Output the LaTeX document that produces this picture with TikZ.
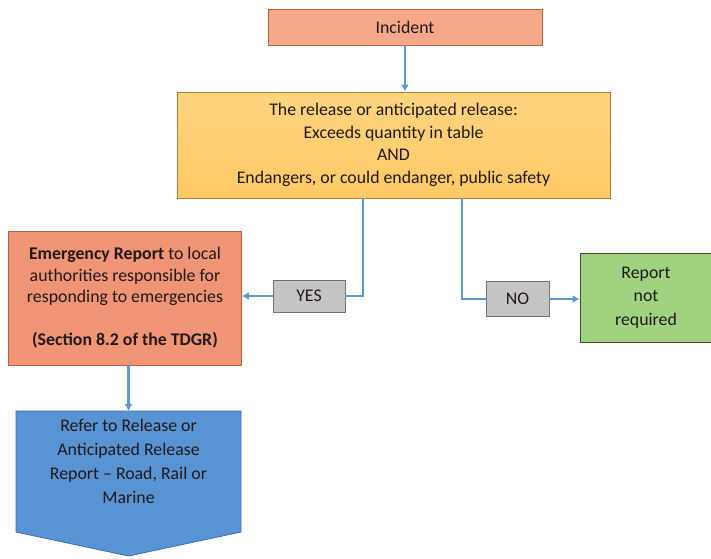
\documentclass[tikz,border=0pt]{standalone}
\usepackage{fontspec}
\setmainfont{Carlito}
\usepackage{tikz}
\usetikzlibrary{positioning, arrows.meta, calc}

\definecolor{salmon}{RGB}{245,168,138}
\definecolor{salmondark}{RGB}{190,95,60}
\definecolor{emerg}{RGB}{240,148,118}
\definecolor{gold}{RGB}{255,205,105}
\definecolor{golddark}{RGB}{170,130,50}
\definecolor{leaf}{RGB}{160,210,128}
\definecolor{leafdark}{RGB}{55,85,40}
\definecolor{stone}{RGB}{196,196,196}
\definecolor{stonedark}{RGB}{115,115,115}
\definecolor{sky}{RGB}{88,148,212}
\definecolor{skydark}{RGB}{60,110,170}
\definecolor{wire}{RGB}{92,152,212}
\definecolor{ink}{RGB}{35,25,25}

\tikzset{
    box/.style={draw, line width=0.8pt, align=center, inner sep=0pt, text=ink,
        font=\fontsize{17.8}{22.5}\selectfont},
    tag/.style={box, fill=stone, draw=stonedark},
    link/.style={draw=wire, line width=2.4pt},
    arrow/.style={link, -{Latex[length=7pt,width=8pt]}}
}

\begin{document}
\begin{tikzpicture}[x=1pt, y=-1pt]
    \useasboundingbox (0,0) rectangle (711,558);

    % boxes
    \node[box, fill=salmon, draw=salmondark, minimum width=274pt, minimum height=36pt]
        (incident) at (405,27) {Incident};
    \node[box, draw=golddark, top color=gold!85!white, bottom color=gold!95!orange,
        minimum width=433pt, minimum height=106pt]
        (release) at (393.5,145)
        {The release or anticipated release:\\Exceeds quantity in table\\AND\\Endangers, or could endanger, public safety};
    \node[box, fill=emerg, draw=salmondark, minimum width=233pt, minimum height=134pt,
        font=\fontsize{17.8}{21.5}\selectfont]
        (emergency) at (125,298)
        {\textbf{Emergency Report} to local\\authorities responsible for\\responding to emergencies\\[21.5pt]\textbf{(Section 8.2 of the TDGR)}};
    \node[tag, minimum width=72pt, minimum height=32pt] (yes) at (309,296) {YES};
    \node[tag, minimum width=63pt, minimum height=35pt] (no) at (517.5,299) {NO};
    \node[box, fill=leaf, draw=leafdark, minimum width=132pt, minimum height=89pt,
        font=\fontsize{17.8}{23.5}\selectfont]
        (none) at (646,297.5) {Report\\not\\required};

    % off-page shape
    \coordinate (refer) at (128.5,411);
    \fill[sky, draw=skydark, line width=0.8pt]
        (16,411) -- (241,411) -- (241,532) -- (128.5,556) -- (16,532) -- cycle;
    \node[box, draw=none, font=\fontsize{17.8}{24}\selectfont]
        (refertext) at (128.5,461)
        {Refer to Release or\\Anticipated Release\\Report -- Road, Rail or\\Marine};

    % connectors
    \draw[arrow] (incident.south) -- (incident.south |- release.north);
    \draw[link] ($(release.south)+(-30.5,0)$) |- (yes.east);
    \draw[arrow] (yes.west) -- (yes.west -| emergency.east);
    \draw[link] ($(release.south)+(68.5,0)$) |- (no.west);
    \draw[arrow] (no.east) -- (no.east -| none.west);
    \draw[arrow] (emergency.south -| refer) -- (refer);
\end{tikzpicture}
\end{document}
